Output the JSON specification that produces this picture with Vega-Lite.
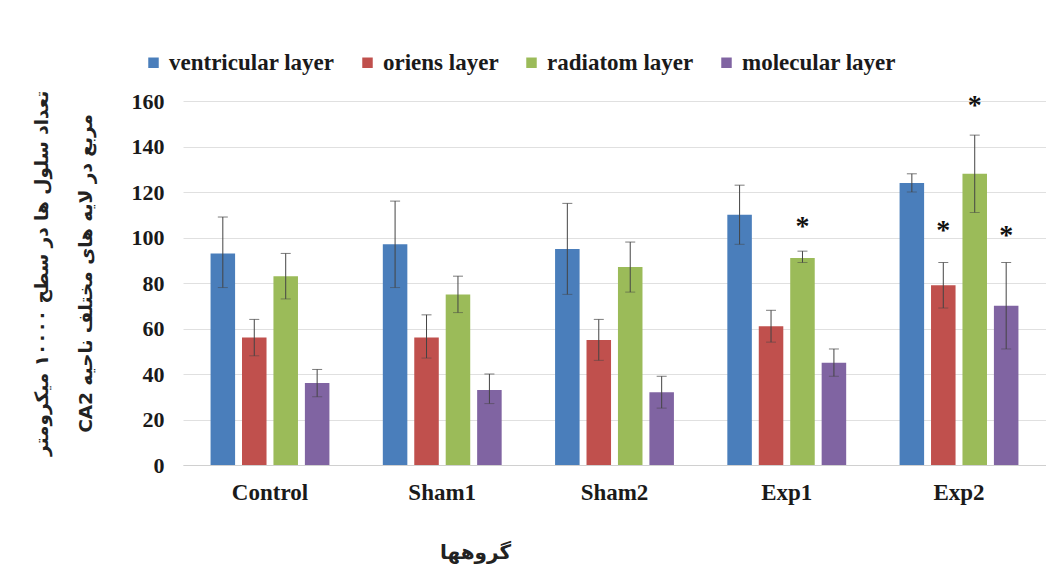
{
  "$schema": "https://vega.github.io/schema/vega-lite/v6.json",
  "autosize": {"type": "none"},
  "width": 863,
  "height": 364,
  "padding": {"left": 183, "top": 101, "right": 0, "bottom": 123},
  "background": "white",
  "data": {"values": [
    {"group": "Control", "layer": "ventricular layer", "value": 93, "lo": 78, "hi": 109, "star": null},
    {"group": "Control", "layer": "oriens layer", "value": 56, "lo": 48, "hi": 64, "star": null},
    {"group": "Control", "layer": "radiatom layer", "value": 83, "lo": 73, "hi": 93, "star": null},
    {"group": "Control", "layer": "molecular layer", "value": 36, "lo": 30, "hi": 42, "star": null},
    {"group": "Sham1", "layer": "ventricular layer", "value": 97, "lo": 78, "hi": 116, "star": null},
    {"group": "Sham1", "layer": "oriens layer", "value": 56, "lo": 47, "hi": 66, "star": null},
    {"group": "Sham1", "layer": "radiatom layer", "value": 75, "lo": 67, "hi": 83, "star": null},
    {"group": "Sham1", "layer": "molecular layer", "value": 33, "lo": 27, "hi": 40, "star": null},
    {"group": "Sham2", "layer": "ventricular layer", "value": 95, "lo": 75, "hi": 115, "star": null},
    {"group": "Sham2", "layer": "oriens layer", "value": 55, "lo": 46, "hi": 64, "star": null},
    {"group": "Sham2", "layer": "radiatom layer", "value": 87, "lo": 76, "hi": 98, "star": null},
    {"group": "Sham2", "layer": "molecular layer", "value": 32, "lo": 25, "hi": 39, "star": null},
    {"group": "Exp1", "layer": "ventricular layer", "value": 110, "lo": 97, "hi": 123, "star": null},
    {"group": "Exp1", "layer": "oriens layer", "value": 61, "lo": 54, "hi": 68, "star": null},
    {"group": "Exp1", "layer": "radiatom layer", "value": 91, "lo": 89, "hi": 94, "star": 106},
    {"group": "Exp1", "layer": "molecular layer", "value": 45, "lo": 39, "hi": 51, "star": null},
    {"group": "Exp2", "layer": "ventricular layer", "value": 124, "lo": 120, "hi": 128, "star": null},
    {"group": "Exp2", "layer": "oriens layer", "value": 79, "lo": 69, "hi": 89, "star": 104},
    {"group": "Exp2", "layer": "radiatom layer", "value": 128, "lo": 111, "hi": 145, "star": 159},
    {"group": "Exp2", "layer": "molecular layer", "value": 70, "lo": 51, "hi": 89, "star": 102}
  ]},
  "encoding": {
    "x": {
      "field": "group", "type": "nominal",
      "sort": ["Control", "Sham1", "Sham2", "Exp1", "Exp2"],
      "scale": {"paddingInner": 0.31, "paddingOuter": 0.16},
      "axis": {
        "title": "گروهها",
        "titleFont": "DejaVu Sans",
        "titleFontSize": 20,
        "titleFontWeight": "bold",
        "titleColor": "#222",
        "titleX": 292,
        "titleY": 87,
        "titleAnchor": null,
        "titleAlign": "center",
        "titleBaseline": "middle",
        "labelAngle": 0,
        "labelFont": "Liberation Serif",
        "labelFontSize": 23,
        "labelFontWeight": "bold",
        "labelColor": "#1a1a1a",
        "labelPadding": 16,
        "ticks": false,
        "domainColor": "#d0d0d0",
        "grid": false
      }
    },
    "xOffset": {
      "field": "layer", "type": "nominal",
      "sort": ["ventricular layer", "oriens layer", "radiatom layer", "molecular layer"],
      "scale": {"paddingInner": 0.22}
    }
  },
  "layer": [
    {
      "mark": {"type": "bar"},
      "encoding": {
        "y": {
          "field": "value", "type": "quantitative",
          "scale": {"domain": [0, 160], "nice": false},
          "axis": {
            "values": [0, 20, 40, 60, 80, 100, 120, 140, 160],
            "title": ["تعداد سلول ها در سطح ۱۰۰۰۰ میکرومتر", "CA2 مربع در لایه های مختلف ناحیه"],
            "titleFont": "DejaVu Sans",
            "titleFontSize": 18.5,
            "titleFontWeight": "bold",
            "titleColor": "#222",
            "titleLineHeight": 44,
            "titleAngle": -90,
            "titleX": -151,
            "titleY": 172,
            "titleAlign": "center",
            "titleBaseline": "top",
            "labelFont": "Liberation Serif",
            "labelFontSize": 22,
            "labelFontWeight": "bold",
            "labelColor": "#1a1a1a",
            "labelPadding": 19,
            "ticks": false,
            "domain": false,
            "grid": true,
            "gridColor": "#e0e0e0"
          }
        },
        "color": {
          "field": "layer", "type": "nominal",
          "sort": ["ventricular layer", "oriens layer", "radiatom layer", "molecular layer"],
          "scale": {
            "domain": ["ventricular layer", "oriens layer", "radiatom layer", "molecular layer"],
            "range": ["#4a7ebb", "#c0504d", "#9bbb59", "#8064a2"]
          },
          "legend": {
            "title": null,
            "orient": "none",
            "direction": "horizontal",
            "legendX": -41,
            "legendY": -50,
            "symbolType": "square",
            "symbolSize": 110,
            "symbolStrokeWidth": 0,
            "labelFont": "Liberation Serif",
            "labelFontSize": 23,
            "labelFontWeight": "bold",
            "labelColor": "#1a1a1a",
            "labelOffset": 4,
            "columnPadding": 21,
            "labelLimit": 300
          }
        }
      }
    },
    {
      "mark": {"type": "rule", "color": "#444", "strokeWidth": 1},
      "encoding": {
        "y": {"field": "lo", "type": "quantitative"},
        "y2": {"field": "hi"}
      }
    },
    {
      "mark": {"type": "tick", "color": "#444", "thickness": 1, "size": 10, "orient": "horizontal"},
      "encoding": {
        "y": {"field": "hi", "type": "quantitative"}
      }
    },
    {
      "mark": {"type": "tick", "color": "#444", "thickness": 1, "size": 10, "orient": "horizontal", "opacity": 0.5},
      "encoding": {
        "y": {"field": "lo", "type": "quantitative"}
      }
    },
    {
      "transform": [{"filter": "datum.star != null"}],
      "mark": {"type": "text", "text": "*", "font": "Liberation Serif", "fontSize": 28, "fontWeight": "bold", "color": "#111", "baseline": "middle", "dy": 3},
      "encoding": {
        "y": {"field": "star", "type": "quantitative"}
      }
    }
  ],
  "config": {
    "view": {"stroke": null}
  }
}
